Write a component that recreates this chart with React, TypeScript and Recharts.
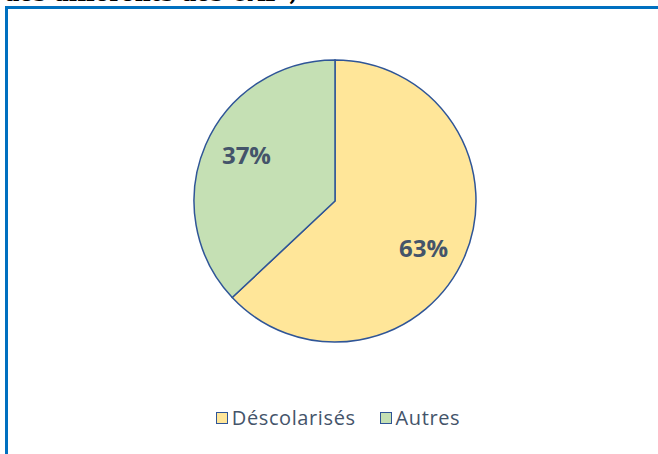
import { PieChart, Pie, Cell } from "recharts";

const categories = ["Déscolarisés", "Autres"];
const values = [63, 37];
const colors = ["#FFE699", "#C5E0B4"];

const data = categories.map((name, i) => ({ name, value: values[i] }));

const RAD = Math.PI / 180;

// labels sit a bit clockwise of the slice middle, like the original
const renderLabel = (props: any) => {
  const { cx, cy, midAngle, percent } = props;
  const r = 100;
  const a = midAngle - 4.3;
  const x = cx + r * Math.cos(-a * RAD);
  const y = cy + r * Math.sin(-a * RAD);
  return (
    <text
      x={x}
      y={y}
      fill="#44546A"
      fontSize={24}
      fontWeight="bold"
      textAnchor="middle"
      dominantBaseline="central"
      fontFamily="'Open Sans', sans-serif"
    >
      {Math.round(percent * 100)}%
    </text>
  );
};

const ChartLegend = () => (
  <div
    style={{
      position: "absolute",
      top: 404,
      left: 9,
      width: 658,
      display: "flex",
      justifyContent: "center",
      gap: 24,
      fontFamily: "'Open Sans', sans-serif",
      fontSize: 20,
      letterSpacing: 0.6,
      color: "#44546A",
    }}
  >
    {categories.map((c, i) => (
      <div key={c} style={{ display: "flex", alignItems: "center" }}>
        <span
          style={{
            width: 10,
            height: 10,
            background: colors[i],
            border: "1.5px solid #2F5597",
            marginRight: 4,
            display: "inline-block",
          }}
        />
        {c}
      </div>
    ))}
  </div>
);

export default function App() {
  return (
    <div
      style={{
        position: "fixed",
        left: 0,
        top: 0,
        width: 658,
        height: 454,
        background: "#fff",
        overflow: "hidden",
      }}
    >
      <div
        style={{
          position: "absolute",
          left: 4,
          top: -20,
          fontFamily: "'DejaVu Serif', serif",
          fontWeight: "bold",
          fontSize: 22,
          whiteSpace: "nowrap",
          color: "#000",
        }}
      >
        des différents des CAP ;
      </div>
      <div
        style={{
          position: "absolute",
          left: 5,
          top: 6,
          width: 660,
          height: 460,
          borderTop: "3px solid #0070C0",
          borderLeft: "3px solid #0070C0",
        }}
      />
      <div style={{ position: "absolute", left: 0, top: 0 }}>
        <PieChart
          width={658}
          height={454}
          margin={{ top: 0, right: 0, bottom: 0, left: 0 }}
        >
          <Pie
            data={data}
            dataKey="value"
            nameKey="name"
            cx={335}
            cy={201}
            outerRadius={141}
            startAngle={90}
            endAngle={-270}
            stroke="#2F5597"
            strokeWidth={1.5}
            label={renderLabel}
            labelLine={false}
            isAnimationActive={false}
          >
            {data.map((d, i) => (
              <Cell key={d.name} fill={colors[i]} />
            ))}
          </Pie>
        </PieChart>
      </div>
      <ChartLegend />
    </div>
  );
}
